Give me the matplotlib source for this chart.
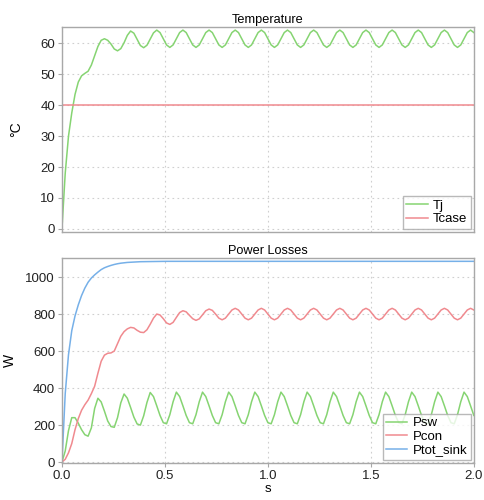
import numpy as np
import matplotlib
matplotlib.use("Agg")
import matplotlib.pyplot as plt

# time grid shared by the oscillating traces (s)
t = np.linspace(0, 2.0, 127)

tj = [0, 18, 30, 37.5, 43.5, 47.5, 49.5, 50.3,
      51, 53, 56, 59, 61, 61.5, 61.0, 59.8,
      58.2, 57.6, 58.3, 60.2, 62.6, 64.0, 63.3, 61.3,
      59.3, 58.6, 59.4, 61.4, 63.4, 64.3, 63.5, 61.5,
      59.5, 58.7, 59.5, 61.5, 63.5, 64.3, 63.5, 61.5,
      59.5, 58.7, 59.5, 61.5, 63.5, 64.3, 63.5, 61.5,
      59.5, 58.7, 59.5, 61.5, 63.5, 64.3, 63.5, 61.5,
      59.5, 58.7, 59.5, 61.5, 63.5, 64.3, 63.5, 61.5,
      59.5, 58.7, 59.5, 61.5, 63.5, 64.3, 63.5, 61.5,
      59.5, 58.7, 59.5, 61.5, 63.5, 64.3, 63.5, 61.5,
      59.5, 58.7, 59.5, 61.5, 63.5, 64.3, 63.5, 61.5,
      59.5, 58.7, 59.5, 61.5, 63.5, 64.3, 63.5, 61.5,
      59.5, 58.7, 59.5, 61.5, 63.5, 64.3, 63.5, 61.5,
      59.5, 58.7, 59.5, 61.5, 63.5, 64.3, 63.5, 61.5,
      59.5, 58.7, 59.5, 61.5, 63.5, 64.3, 63.5, 61.5,
      59.5, 58.7, 59.5, 61.5, 63.5, 64.3, 63.5]

tcase_t = [0, 2.0]
tcase = [40, 40]

psw = [0, 60, 170, 240, 240, 210, 175, 148,
       140, 185, 290, 345, 325, 275, 222, 192,
       188, 240, 320, 368, 345, 295, 243, 206,
       200, 250, 322, 376, 354, 304, 252, 213,
       207, 256, 326, 378, 354, 304, 252, 213,
       207, 256, 326, 378, 354, 304, 252, 213,
       207, 256, 326, 378, 354, 304, 252, 213,
       207, 256, 326, 378, 354, 304, 252, 213,
       207, 256, 326, 378, 354, 304, 252, 213,
       207, 256, 326, 378, 354, 304, 252, 213,
       207, 256, 326, 378, 354, 304, 252, 213,
       207, 256, 326, 378, 354, 304, 252, 213,
       207, 256, 326, 378, 354, 304, 252, 213,
       207, 256, 326, 378, 354, 304, 252, 213,
       207, 256, 326, 378, 354, 304, 252, 213,
       207, 256, 326, 378, 354, 304, 252]

pcon = [0, 15, 50, 100, 175, 235, 280, 310,
        335, 370, 410, 480, 545, 578, 588, 590,
        600, 640, 680, 705, 720, 728, 725, 712,
        702, 700, 715, 745, 778, 800, 795, 775,
        752, 744, 755, 782, 808, 818, 812, 793,
        775, 766, 774, 796, 818, 827, 820, 800,
        778, 769, 778, 800, 822, 831, 822, 800,
        778, 769, 778, 800, 822, 831, 822, 800,
        778, 769, 778, 800, 822, 831, 822, 800,
        778, 769, 778, 800, 822, 831, 822, 800,
        778, 769, 778, 800, 822, 831, 822, 800,
        778, 769, 778, 800, 822, 831, 822, 800,
        778, 769, 778, 800, 822, 831, 822, 800,
        778, 769, 778, 800, 822, 831, 822, 800,
        778, 769, 778, 800, 822, 831, 822, 800,
        778, 769, 778, 800, 822, 831, 822]

ptot_t = [0, 0.0159, 0.0317, 0.0476, 0.0635, 0.0794, 0.0952, 0.111, 0.127,
          0.143, 0.159, 0.175, 0.19, 0.206, 0.222, 0.238, 0.254, 0.27, 0.286,
          0.317, 0.349, 0.381, 0.444, 0.508, 0.6, 2.0]
ptot = [0, 370, 580, 710, 790, 850, 900, 940, 972,
        995, 1012, 1027, 1040, 1050, 1057, 1063, 1068, 1072, 1075,
        1079, 1081, 1083, 1084, 1085, 1085, 1085]

GREEN = "#86d472"
RED = "#f08a8f"
BLUE = "#76b0e8"
SPINE = "#a8a8a8"

plt.rcParams["font.family"] = ["Liberation Sans", "DejaVu Sans"]

fig = plt.figure(figsize=(4.84, 5.0), dpi=100)
ax1 = fig.add_axes([0.128, 0.536, 0.851, 0.410])
ax2 = fig.add_axes([0.128, 0.074, 0.851, 0.410])


def style(ax):
    for s in ax.spines.values():
        s.set_color(SPINE)
        s.set_linewidth(1.0)
    ax.tick_params(axis="both", colors=SPINE, labelcolor="#222222",
                   labelsize=9.5, length=3, width=0.8, pad=2)
    ax.grid(True, linestyle=(0, (1.5, 3)), color="#cfcfcf", linewidth=0.8)
    ax.set_xlim(0, 2.0)
    ax.set_xticks([0, 0.5, 1.0, 1.5, 2.0])


def add_legend(ax):
    leg = ax.legend(loc="lower right", fontsize=9.5, fancybox=False,
                    edgecolor=SPINE, handlelength=1.6, borderpad=0.25,
                    labelspacing=0.1, borderaxespad=0.25, handletextpad=0.4)
    leg.get_frame().set_linewidth(1.0)


# Temperature
ax1.plot(t, tj, color=GREEN, lw=1.1, label="Tj")
ax1.plot(tcase_t, tcase, color=RED, lw=1.1, label="Tcase")
style(ax1)
ax1.set_ylim(-1, 65.3)
ax1.set_yticks(range(0, 61, 10))
ax1.tick_params(axis="x", length=0, labelbottom=False)
ax1.set_title("Temperature", fontsize=9.2, pad=3)
ax1.set_ylabel("°C", fontsize=10, labelpad=12)
add_legend(ax1)

# Power losses
ax2.plot(t, psw, color=GREEN, lw=1.1, label="Psw")
ax2.plot(t, pcon, color=RED, lw=1.1, label="Pcon")
ax2.plot(ptot_t, ptot, color=BLUE, lw=1.1, label="Ptot_sink")
style(ax2)
ax2.set_ylim(-5, 1103)
ax2.set_yticks(range(0, 1001, 200))
ax2.xaxis.set_major_formatter(matplotlib.ticker.FormatStrFormatter("%.1f"))
ax2.set_title("Power Losses", fontsize=9.2, pad=3)
ax2.set_ylabel("W", fontsize=10, labelpad=6)
ax2.set_xlabel("s", fontsize=9.5, labelpad=1)
add_legend(ax2)

fig.savefig("out.png", dpi=100)
